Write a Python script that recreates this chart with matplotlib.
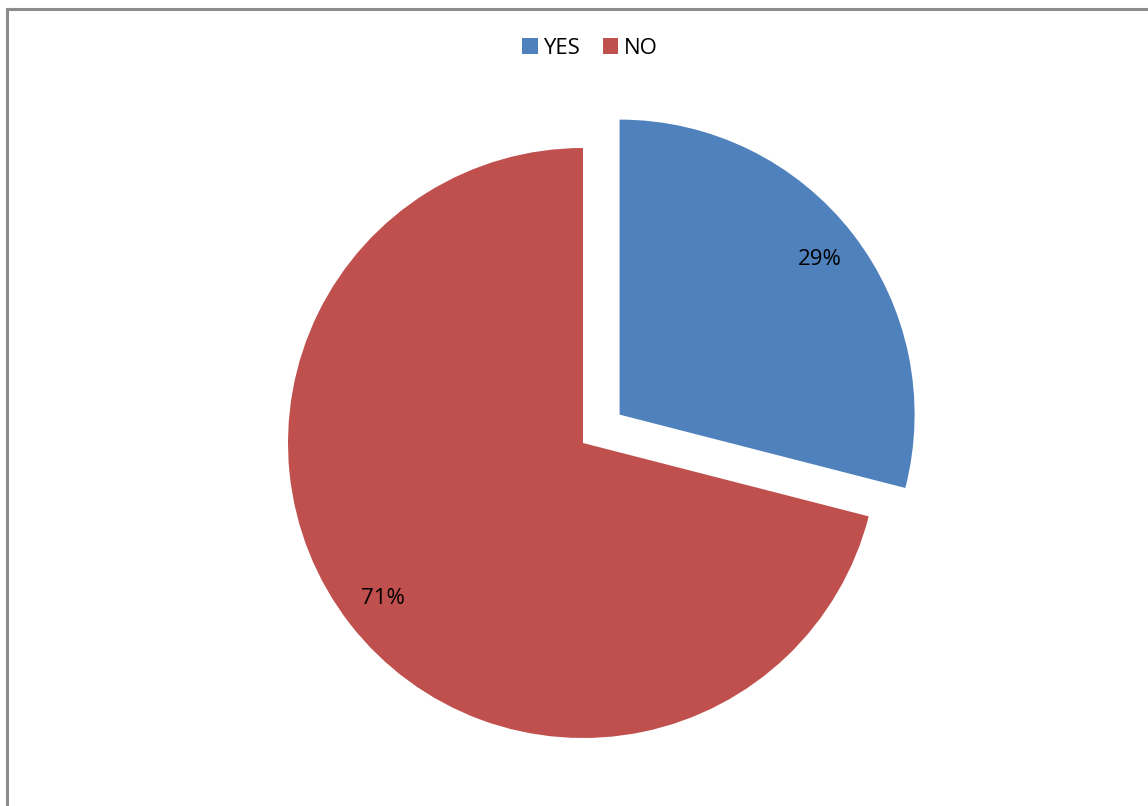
import matplotlib
matplotlib.use("Agg")
import matplotlib.pyplot as plt
from matplotlib.lines import Line2D
from matplotlib.patches import Patch

labels = ["YES", "NO"]
values = [29, 71]
colors = ["#4F81BD", "#C0504D"]

W, H = 1148, 806
fig = plt.figure(figsize=(W / 100, H / 100), dpi=100)
plt.rcParams["font.family"] = ["Open Sans", "DejaVu Sans"]
ax = fig.add_axes([0, 0, 1, 1])

R = 295
wedges, texts, autotexts = ax.pie(
    values,
    colors=colors,
    startangle=90,
    counterclock=False,
    explode=[0.157 * R, 0],
    center=(583, H - 443),
    radius=R,
    autopct="%1.0f%%",
    pctdistance=0.86,
    frame=True,
    textprops=dict(fontsize=16, color="#000000"),
)
ax.set_xlim(0, W)
ax.set_ylim(0, H)
ax.set_aspect("equal")
ax.axis("off")

handles = [Patch(facecolor=c, edgecolor="none") for c in colors]
fig.legend(handles, labels, loc="center", bbox_to_anchor=(590 / W, 1 - 48 / H),
           ncol=2, frameon=False, fontsize=16, handlelength=0.7, handleheight=0.7,
           handletextpad=0.25, columnspacing=1.0)

# outer chart frame (left and top edges)
fig.add_artist(Line2D([7 / W, 7 / W], [0, 1 - 9 / H], transform=fig.transFigure,
                      color="#8c8c8c", lw=2.2))
fig.add_artist(Line2D([7 / W, 1], [1 - 9 / H, 1 - 9 / H], transform=fig.transFigure,
                      color="#8c8c8c", lw=2.2))

fig.savefig("out.png", dpi=100, facecolor="white")
